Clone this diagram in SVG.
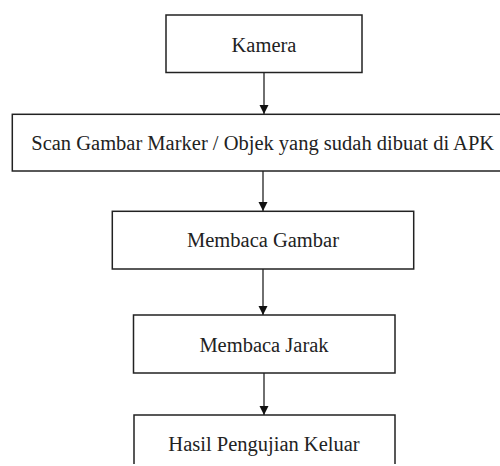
<svg xmlns="http://www.w3.org/2000/svg" width="500" height="466" viewBox="0 0 500 466">
<defs>
<style>
.box{fill:#fff;stroke:#222;stroke-width:1.5}
.lbl{font-family:"Liberation Serif","Times New Roman",serif;font-size:20.5px;fill:#222;text-anchor:middle}
.con{stroke:#222;stroke-width:1.3;fill:none}
</style>
<marker id="ah" viewBox="0 0 10 10" refX="10" refY="5" markerWidth="9" markerHeight="10" markerUnits="userSpaceOnUse" orient="auto">
<path d="M0,0 L10,5 L0,10 Z" fill="#111"/>
</marker>
</defs>
<rect width="500" height="466" fill="#fff"/>
<g id="kamera">
<rect class="box" x="166" y="15" width="196" height="57.5"/>
<text class="lbl" x="264" y="51.5">Kamera</text>
</g>
<g id="scan">
<rect class="box" x="12.3" y="114.3" width="500" height="56.7"/>
<text class="lbl" x="262.7" y="149.5">Scan Gambar Marker / Objek yang sudah dibuat di APK</text>
</g>
<g id="membaca-gambar">
<rect class="box" x="112.3" y="211.3" width="301.4" height="57.7"/>
<text class="lbl" x="263" y="247.3">Membaca Gambar</text>
</g>
<g id="membaca-jarak">
<rect class="box" x="133.5" y="315" width="261.5" height="58"/>
<text class="lbl" x="264" y="351.7">Membaca Jarak</text>
</g>
<g id="hasil">
<path class="box" d="M134,464 V415 H395 V464"/>
<text class="lbl" x="264" y="450.7">Hasil Pengujian Keluar</text>
</g>
<g id="connectors">
<line class="con" x1="264" y1="72.5" x2="264" y2="114" marker-end="url(#ah)"/>
<line class="con" x1="263" y1="171" x2="263" y2="211" marker-end="url(#ah)"/>
<line class="con" x1="263" y1="269" x2="263" y2="315" marker-end="url(#ah)"/>
<line class="con" x1="264" y1="373" x2="264" y2="415" marker-end="url(#ah)"/>
</g>
</svg>
